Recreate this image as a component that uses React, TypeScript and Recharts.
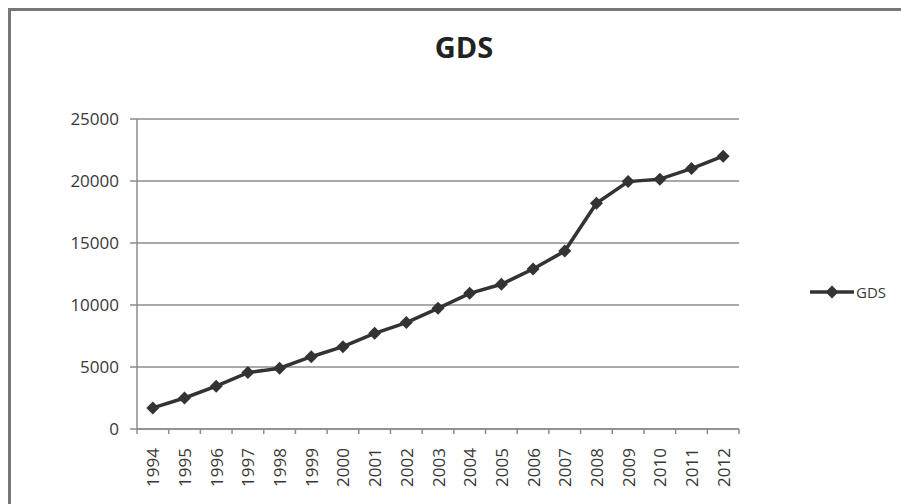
import { LineChart, Line, XAxis, YAxis, CartesianGrid, Legend } from 'recharts';

const years = [
  '1994', '1995', '1996', '1997', '1998', '1999', '2000', '2001', '2002', '2003',
  '2004', '2005', '2006', '2007', '2008', '2009', '2010', '2011', '2012',
];
const gds = [
  1700, 2500, 3450, 4550, 4900, 5830, 6640, 7720, 8580, 9730,
  10940, 11670, 12900, 14350, 18200, 19950, 20150, 21000, 22000,
];
const yTicks = [0, 5000, 10000, 15000, 20000, 25000];

// x is numeric so tick marks can sit between the years, like Excel
const data = years.map((year, i) => ({ pos: i + 0.5, year, gds: gds[i] }));
const xTicks = Array.from({ length: years.length * 2 + 1 }, (_, i) => i / 2);

const FONT = '"Open Sans", sans-serif';
const LINE = '#333333';
const AXIS = '#8c8c8c';
const TEXT = '#383838';

function XTick(props: any) {
  const { x, y, payload } = props;
  const v = payload.value;
  if (Number.isInteger(v)) {
    return <line x1={x} x2={x} y1={y} y2={y + 5} stroke={AXIS} strokeWidth={1.5} />;
  }
  const ly = y + 19;
  return (
    <text
      x={x}
      y={ly}
      transform={`rotate(-90 ${x} ${ly})`}
      textAnchor="end"
      dominantBaseline="central"
      fill={TEXT}
      fontSize={17}
      fontFamily={FONT}
    >
      {years[Math.floor(v)]}
    </text>
  );
}

function Diamond(props: any) {
  const { cx, cy } = props;
  if (cx == null || cy == null) return null;
  const r = 6.5;
  return <path d={`M${cx},${cy - r}L${cx + r},${cy}L${cx},${cy + r}L${cx - r},${cy}Z`} fill={LINE} />;
}

function GdsLegend() {
  return (
    <div style={{ display: 'flex', alignItems: 'center', fontFamily: FONT, fontSize: 15, color: TEXT }}>
      <svg width={44} height={14} style={{ display: 'block' }}>
        <line x1={0} x2={44} y1={7} y2={7} stroke={LINE} strokeWidth={3.5} />
        <path d="M22,0.5L28.5,7L22,13.5L15.5,7Z" fill={LINE} />
      </svg>
      <span style={{ marginLeft: 2 }}>GDS</span>
    </div>
  );
}

export default function App() {
  return (
    <div
      style={{
        position: 'fixed',
        top: 8,
        left: 8,
        width: 893,
        height: 496,
        overflow: 'hidden',
        borderTop: '3px solid #777',
        borderLeft: '3px solid #777',
        background: '#fff',
      }}
    >
      <div
        style={{
          position: 'absolute',
          top: 21,
          left: 8,
          width: 890,
          textAlign: 'center',
          fontFamily: FONT,
          fontWeight: 700,
          fontSize: 29,
          lineHeight: 1,
          color: '#222',
        }}
      >
        GDS
      </div>
      <LineChart width={890} height={493} data={data} margin={{ top: 108, right: 162, bottom: 0, left: 0 }}>
        <CartesianGrid vertical={false} stroke={AXIS} strokeWidth={1.5} />
        <XAxis
          dataKey="pos"
          type="number"
          domain={[0, years.length]}
          ticks={xTicks}
          interval={0}
          tick={<XTick />}
          tickLine={false}
          tickSize={0}
          tickMargin={0}
          height={75}
          axisLine={{ stroke: AXIS, strokeWidth: 1.5 }}
        />
        <YAxis
          type="number"
          domain={[0, 25000]}
          ticks={yTicks}
          interval={0}
          width={126}
          tickSize={7}
          tickMargin={11}
          axisLine={{ stroke: AXIS, strokeWidth: 1.5 }}
          tickLine={{ stroke: AXIS, strokeWidth: 1.5 }}
          tick={{ fill: TEXT, fontSize: 17, fontFamily: FONT }}
        />
        <Legend
          layout="horizontal"
          verticalAlign="middle"
          align="center"
          content={<GdsLegend />}
          wrapperStyle={{ left: 799, top: 271, width: 'auto' }}
        />
        <Line
          type="linear"
          dataKey="gds"
          name="GDS"
          stroke={LINE}
          strokeWidth={3.5}
          dot={<Diamond />}
          activeDot={false}
          isAnimationActive={false}
        />
      </LineChart>
    </div>
  );
}
